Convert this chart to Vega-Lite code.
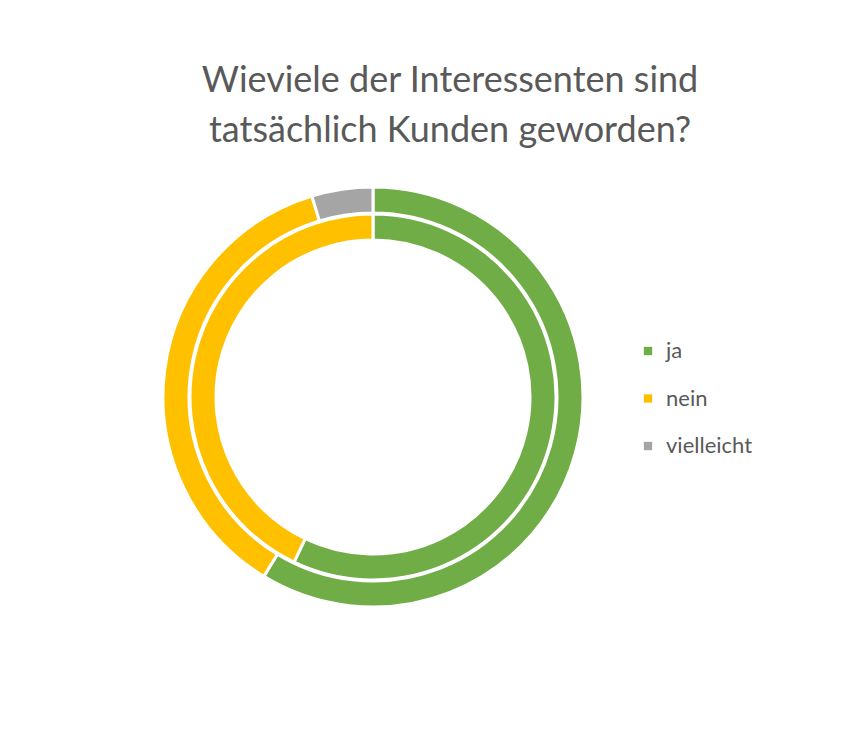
{
  "$schema": "https://vega.github.io/schema/vega-lite/v6.json",
  "width": 746,
  "height": 454,
  "autosize": {"type": "none"},
  "padding": {"left": 0, "top": 170, "right": 107, "bottom": 114},
  "background": "white",
  "title": {
    "text": ["Wieviele der Interessenten sind", "tatsächlich Kunden geworden?"],
    "anchor": "middle",
    "dx": 77,
    "offset": 20,
    "font": "Lato",
    "fontSize": 36,
    "fontWeight": "normal",
    "color": "#595959",
    "lineHeight": 50
  },
  "data": {
    "values": [
      {"ring": "outer", "answer": "ja", "pos": 1, "share": 58.7},
      {"ring": "outer", "answer": "nein", "pos": 2, "share": 36.6},
      {"ring": "outer", "answer": "vielleicht", "pos": 3, "share": 4.7},
      {"ring": "inner", "answer": "ja", "pos": 1, "share": 57.1},
      {"ring": "inner", "answer": "nein", "pos": 2, "share": 42.9}
    ]
  },
  "encoding": {
    "theta": {"field": "share", "type": "quantitative", "stack": true},
    "order": {"field": "pos"},
    "color": {
      "field": "answer",
      "type": "nominal",
      "scale": {
        "domain": ["ja", "nein", "vielleicht"],
        "range": ["#70AD47", "#FFC000", "#A5A5A5"]
      },
      "legend": {
        "title": null,
        "orient": "none",
        "legendX": 637,
        "legendY": 170,
        "symbolType": "square",
        "symbolSize": 70,
        "symbolStrokeWidth": 0,
        "labelFont": "Lato",
        "labelFontSize": 22,
        "labelColor": "#595959",
        "labelOffset": 7,
        "rowPadding": 25.5
      }
    }
  },
  "layer": [
    {
      "transform": [{"filter": "datum.ring === 'outer'"}],
      "mark": {"type": "arc", "radius": 210, "radius2": 184, "stroke": "white", "strokeWidth": 3}
    },
    {
      "transform": [{"filter": "datum.ring === 'inner'"}],
      "mark": {"type": "arc", "radius": 183, "radius2": 157, "stroke": "white", "strokeWidth": 3}
    }
  ],
  "config": {"view": {"stroke": null}}
}
